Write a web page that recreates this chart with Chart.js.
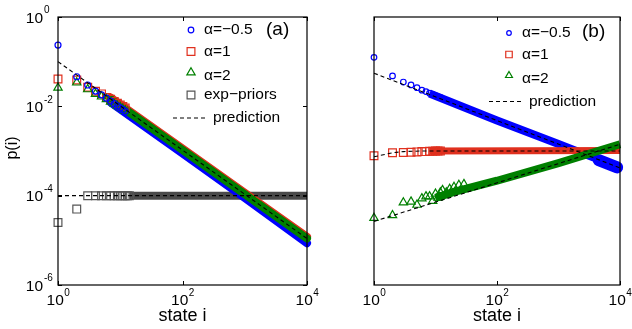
<!DOCTYPE html>
<html>
<head>
<meta charset="utf-8">
<script src="https://cdn.jsdelivr.net/npm/chart.js@4/dist/chart.umd.min.js"></script>
<style>
  html, body { margin: 0; padding: 0; background: #fff; }
  #wrap { position: relative; width: 632px; height: 329px; }
  #wrap canvas { position: absolute; top: 0; }
</style>
</head>
<body>
<div id="wrap">
  <canvas id="panelA" width="322" height="329" style="left:0"></canvas>
  <canvas id="panelB" width="316" height="329" style="left:316px"></canvas>
</div>
<script>
// ---- values ----
const stateTicks = [1, 100, 10000];
const pTicksA = [1, 1e-2, 1e-4, 1e-6];

// first individual states (open markers)
const earlyStates = [1, 2, 3, 4, 5, 6, 7, 8, 9, 10, 11, 12];

// panel (a)
const blueA  = [0.235, 0.046, 0.030, 0.022, 0.018, 0.0152, 0.0131, 0.0115, 0.0102, 0.0092, 0.0084, 0.0077];
const redA   = [0.041, 0.039, 0.0267, 0.0218, 0.019, 0.0158, 0.0144, 0.0128, 0.0117, 0.0107, 0.0099, 0.0092];
const greenA = [0.026, 0.034, 0.024, 0.019, 0.0165, 0.0145, 0.0127, 0.0114, 0.0103, 0.0095, 0.0087, 0.0080];
const greyStates = [1, 2, 3, 4, 5, 6, 7, 8, 9, 10, 11, 12, 13, 14];
const greyA  = [2.5e-5, 5.0e-5, 1e-4, 1e-4, 1e-4, 1e-4, 1e-4, 1e-4, 1e-4, 1e-4, 1e-4, 1e-4, 1e-4, 1e-4];

// dense part of each series (states 7 .. 10^4)
const bandStatesA = [7, 100, 1000, 10000];
const blueBandA  = [0.0122, 8.8e-4, 8.9e-5, 8.6e-6];
const redBandA   = [0.0157, 1.13e-3, 1.16e-4, 1.2e-5];
const greenBandA = [0.0145, 1.05e-3, 1.07e-4, 1.1e-5];
const greyBandStates = [14, 10000];
const greyBandA = [1e-4, 1e-4];

const predStates = [1, 10000];
const predZipfA = [0.1, 1.1e-5];
const predExpA  = [1e-4, 1e-4];

// panel (b)
const blueB  = [2.5e-3, 1.32e-3, 1.07e-3, 9.7e-4, 8.8e-4, 8.1e-4, 7.7e-4, 7.3e-4, 7.0e-4, 6.7e-4, 6.5e-4, 6.3e-4];
const redB   = [8.5e-5, 9.4e-5, 9.5e-5, 9.6e-5, 9.7e-5, 9.8e-5, 9.8e-5, 9.9e-5, 9.9e-5, 1.0e-4, 1.0e-4, 1.0e-4];
const greenB = [1.0e-5, 1.1e-5, 1.7e-5, 1.75e-5, 1.57e-5, 1.96e-5, 2.1e-5, 2.1e-5, 1.8e-5, 2.3e-5, 2.0e-5, 2.4e-5];
const greenScatterStates = [13, 15, 17, 20, 24, 29];
const greenScatterB = [2.6e-5, 2.4e-5, 2.7e-5, 2.9e-5, 3.1e-5, 3.2e-5];

const blueBandStatesB = [8, 100, 1000, 3000, 10000];
const blueBandB = [7.2e-4, 2.85e-4, 1.27e-4, 8.6e-5, 5.6e-5];
const blueTailStatesB = [4500, 9000];
const blueTailB = [7.3e-5, 5.7e-5];
const redBandStatesB = [8, 10000];
const redBandB = [1.0e-4, 1.02e-4];
const greenBandStatesB = [10, 20, 100, 1000, 10000];
const greenBandB = [2.0e-5, 2.45e-5, 3.6e-5, 6.6e-5, 1.26e-4];

const predBlueB  = [1.45e-3, 5.6e-5];
const predRedStatesB = [1, 2, 3, 6, 10000];
const predRedB   = [8.2e-5, 9.4e-5, 9.8e-5, 1.0e-4, 1.0e-4];
const predGreenB = [8.9e-6, 1.26e-4];

// ---- styling ----
const BLUE = '#0000ff', RED = '#e0301e', GREEN = '#008000', GREY = '#4a4a4a';
const FONT = '"Liberation Sans", Arial, Helvetica, sans-serif';

const pts = (xs, ys) => xs.map((x, k) => ({ x, y: ys[k] }));

function markers(xs, ys, color, style, radius) {
    return {
        data: pts(xs, ys), showLine: false, clip: false,
        pointStyle: style, pointRadius: radius, pointBorderWidth: 1.2,
        pointBorderColor: color, pointBackgroundColor: 'rgba(0,0,0,0)',
    };
}
function band(xs, ys, color, width, cap) {
    return {
        data: pts(xs, ys), showLine: true, clip: false, pointRadius: 0,
        borderColor: color, borderWidth: width, borderCapStyle: cap || 'round', tension: 0,
    };
}
function dashed(xs, ys) {
    return {
        data: pts(xs, ys), showLine: true, clip: false, pointRadius: 0,
        borderColor: '#000', borderWidth: 1.1, borderDash: [4, 3], tension: 0,
    };
}

// marker shapes, same geometry as chart.js point styles
function marker(ctx, style, x, y, r, color) {
    ctx.save();
    ctx.strokeStyle = color;
    ctx.lineWidth = 1.2;
    ctx.beginPath();
    if (style === 'circle') {
        ctx.arc(x, y, r, 0, Math.PI * 2);
    } else if (style === 'rect') {
        const s = r * Math.SQRT1_2;
        ctx.rect(x - s, y - s, 2 * s, 2 * s);
    } else {
        let a = 0;
        ctx.moveTo(x + Math.sin(a) * r, y - Math.cos(a) * r);
        a += 2 * Math.PI / 3;
        ctx.lineTo(x + Math.sin(a) * r, y - Math.cos(a) * r);
        a += 2 * Math.PI / 3;
        ctx.lineTo(x + Math.sin(a) * r, y - Math.cos(a) * r);
        ctx.closePath();
    }
    ctx.stroke();
    ctx.restore();
}

function expOf(v) {
    const e = Math.round(Math.log10(v));
    return e < 0 ? '-' + (-e) : String(e);
}

// frame, inward ticks, power-of-ten labels, titles and legend
function makeDecor(d) {
    return {
        id: 'decor',
        afterDatasetsDraw(chart) {
            const { ctx, chartArea: a, scales: { x, y } } = chart;
            ctx.save();
            ctx.strokeStyle = '#000';
            ctx.lineWidth = 1.2;
            ctx.strokeRect(a.left, a.top, a.right - a.left, a.bottom - a.top);

            ctx.lineWidth = 1;
            ctx.beginPath();
            stateTicks.forEach((v) => {
                const px = Math.round(x.getPixelForValue(v)) + 0.5;
                ctx.moveTo(px, a.bottom); ctx.lineTo(px, a.bottom - 4);
                ctx.moveTo(px, a.top); ctx.lineTo(px, a.top + 4);
            });
            d.yTicks.forEach((v) => {
                const py = Math.round(y.getPixelForValue(v)) + 0.5;
                ctx.moveTo(a.left, py); ctx.lineTo(a.left + 4, py);
                ctx.moveTo(a.right, py); ctx.lineTo(a.right - 4, py);
            });
            ctx.stroke();

            ctx.fillStyle = '#000';
            ctx.textBaseline = 'middle';
            const base = '15.5px ' + FONT, sup = '10px ' + FONT;

            // x tick labels
            stateTicks.forEach((v) => {
                const px = x.getPixelForValue(v);
                const e = expOf(v);
                ctx.font = base; const w1 = ctx.measureText('10').width;
                ctx.font = sup; const w2 = ctx.measureText(e).width;
                const left = px - (w1 + w2) / 2;
                ctx.textAlign = 'left';
                ctx.font = base; ctx.fillText('10', left, a.bottom + 16);
                ctx.font = sup; ctx.fillText(e, left + w1 + 0.5, a.bottom + 8);
            });
            // y tick labels
            if (d.yLabels) {
                d.yTicks.forEach((v) => {
                    const py = y.getPixelForValue(v);
                    ctx.font = base; ctx.textAlign = 'right';
                    ctx.fillText('10', a.left - 15, py + 1.5);
                    ctx.font = sup; ctx.textAlign = 'left';
                    ctx.fillText(expOf(v), a.left - 14, py - 6.5);
                });
            }

            // axis titles
            ctx.textAlign = 'center';
            ctx.font = '18px ' + FONT;
            ctx.fillText('state i', (a.left + a.right) / 2, 316);
            if (d.yTitle) {
                ctx.save();
                ctx.translate(13, 148);
                ctx.rotate(-Math.PI / 2);
                ctx.font = '16px ' + FONT;
                ctx.fillText(d.yTitle, 0, 0);
                ctx.restore();
            }

            // legend
            ctx.textAlign = 'left';
            ctx.font = '15.5px ' + FONT;
            d.legend.forEach((row) => {
                if (row.style === 'dash') {
                    ctx.save();
                    ctx.setLineDash([4, 3]);
                    ctx.lineWidth = 1.1;
                    ctx.beginPath();
                    ctx.moveTo(173, row.y); ctx.lineTo(207, row.y);
                    ctx.stroke();
                    ctx.restore();
                    ctx.fillText(row.label, 213, row.y);
                } else {
                    marker(ctx, row.style, d.legendX, row.y + (row.dy || 0), row.r, row.color);
                    ctx.fillText(row.label, d.legendX + 13, row.y + (row.ty || 0));
                }
            });
            ctx.font = '19px ' + FONT;
            ctx.fillText(d.tag, 266, d.tagY);
            ctx.restore();
        },
    };
}

function panel(id, datasets, d) {
    // datasets are listed bottom to top
    datasets.forEach((ds, k) => { ds.order = datasets.length - k; });
    return new Chart(document.getElementById(id), {
        type: 'scatter',
        data: { datasets },
        options: {
            responsive: false,
            animation: false,
            events: [],
            layout: { padding: d.pad },
            scales: {
                x: { type: 'logarithmic', min: 1, max: 10000, display: false },
                y: { type: 'logarithmic', min: d.yMin, max: d.yMax, display: false },
            },
            plugins: { legend: { display: false }, tooltip: { enabled: false } },
        },
        plugins: [makeDecor(d)],
    });
}

panel('panelA', [
    band(greyBandStates, greyBandA, GREY, 8, 'butt'),
    markers(greyStates, greyA, '#555', 'rect', 5.5),
    band(bandStatesA, blueBandA, BLUE, 8),
    band(bandStatesA, redBandA, RED, 8),
    band(bandStatesA, greenBandA, GREEN, 8),
    markers(earlyStates, redA, RED, 'rect', 5.5),
    markers(earlyStates, greenA, GREEN, 'triangle', 4.8),
    markers(earlyStates, blueA, BLUE, 'circle', 3),
    dashed(predStates, predZipfA),
    dashed(predStates, predExpA),
], {
    pad: { left: 58, right: 15, top: 17, bottom: 44 },
    yMin: 1e-6, yMax: 1, yTicks: pTicksA, yLabels: true, yTitle: 'p(i)',
    legendX: 191, tag: '(a)', tagY: 30,
    legend: [
        { label: 'α=−0.5', style: 'circle', color: BLUE, r: 2.8, y: 30 },
        { label: 'α=1', style: 'rect', color: RED, r: 5.5, y: 51.5 },
        { label: 'α=2', style: 'triangle', color: GREEN, r: 4.8, y: 74, dy: -1.5, ty: 1.5 },
        { label: 'exp−priors', style: 'rect', color: '#555', r: 5.5, y: 95 },
        { label: 'prediction', style: 'dash', y: 118 },
    ],
});

panel('panelB', [
    band(blueBandStatesB, blueBandB, BLUE, 8, 'butt'),
    band(blueTailStatesB, blueTailB, BLUE, 12, 'round'),
    band(redBandStatesB, redBandB, RED, 7, 'butt'),
    band(greenBandStatesB, greenBandB, GREEN, 8, 'butt'),
    markers(earlyStates, blueB, BLUE, 'circle', 2.8),
    markers(earlyStates, redB, RED, 'rect', 5.5),
    markers(earlyStates, greenB, GREEN, 'triangle', 4.8),
    markers(greenScatterStates, greenScatterB, GREEN, 'triangle', 4.8),
    dashed(predStates, predBlueB),
    dashed(predRedStatesB, predRedB),
    dashed(predStates, predGreenB),
], {
    pad: { left: 58, right: 12, top: 17, bottom: 44 },
    yMin: 1e-6, yMax: 1e-2, yTicks: [], yLabels: false, yTitle: null,
    legendX: 193, tag: '(b)', tagY: 32,
    legend: [
        { label: 'α=−0.5', style: 'circle', color: BLUE, r: 2.3, y: 33 },
        { label: 'α=1', style: 'rect', color: RED, r: 4.6, y: 54.5 },
        { label: 'α=2', style: 'triangle', color: GREEN, r: 4, y: 78, dy: -2.5, ty: 1 },
        { label: 'prediction', style: 'dash', y: 101.5 },
    ],
});
</script>
</body>
</html>
